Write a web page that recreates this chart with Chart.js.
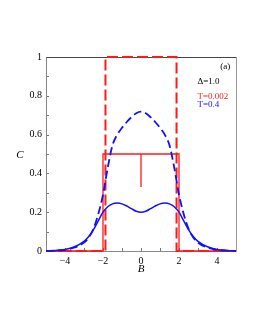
<!DOCTYPE html>
<html>
<head>
<meta charset="utf-8">
<script src="https://cdn.jsdelivr.net/npm/chart.js@4/dist/chart.umd.min.js"></script>
<style>
  body { margin: 0; background: #fff; }
  canvas { display: block; }
</style>
</head>
<body>
<canvas id="myChart" width="255" height="330"></canvas>
<script>
// B grid for the T=0.4 curves
const bValues = [
  -5, -4.5, -4, -3.5, -3, -2.75, -2.5, -2.25, -2, -1.75, -1.5, -1.25, -1, -0.75, -0.5, -0.25,
  0, 0.25, 0.5, 0.75, 1, 1.25, 1.5, 1.75, 2, 2.25, 2.5, 2.75, 3, 3.5, 4, 4.5, 5,
];
// T=0.4, dashed
const blueDashed = [
  0.0005, 0.002, 0.006, 0.018, 0.043, 0.07, 0.115, 0.19, 0.29, 0.43, 0.545, 0.6, 0.635, 0.665, 0.69, 0.71,
  0.718, 0.71, 0.69, 0.665, 0.635, 0.6, 0.545, 0.43, 0.29, 0.19, 0.115, 0.07, 0.043, 0.018, 0.006, 0.002, 0.0005,
];
// T=0.4, solid
const blueSolid = [
  0.001, 0.003, 0.008, 0.022, 0.05, 0.075, 0.11, 0.155, 0.2, 0.228, 0.243, 0.247, 0.243, 0.232, 0.218, 0.205,
  0.2, 0.205, 0.218, 0.232, 0.243, 0.247, 0.243, 0.228, 0.2, 0.155, 0.11, 0.075, 0.05, 0.022, 0.008, 0.003, 0.001,
];
// T=0.002, dashed (step shape)
const redDashedB = [-5, -1.87, -1.87, 1.87, 1.87, 5];
const redDashedC = [0, 0, 1, 1, 0, 0];
// T=0.002, solid (step shape with a spike at B=0)
const redSolidB = [-5, -2, -2, 0, 0, 0, 2, 2, 5];
const redSolidC = [0, 0, 0.5, 0.5, 0.33, 0.5, 0.5, 0, 0];

const xTickLabels = [-4, -2, 0, 2, 4];
const yTickLabels = [0, 0.2, 0.4, 0.6, 0.8, 1];

const RED = "#ff1a1a";
const BLUE = "#1010ff";
const SERIF = "'Liberation Serif', 'DejaVu Serif', serif";

const toPoints = (xs, ys) => xs.map((x, i) => ({ x: x, y: ys[i] }));

const fmt = (v) => String(v).replace("-", "\u2212");

const framePlugin = {
  id: "frame",
  beforeDatasetsDraw(chart) {
    const { ctx, chartArea: a, scales } = chart;
    const x = scales.x;
    const y = scales.y;
    ctx.save();
    ctx.lineWidth = 1;
    ctx.strokeStyle = "#777";
    ctx.beginPath();
    y.ticks.forEach((t) => {
      const py = Math.round(y.getPixelForValue(t.value)) + 0.5;
      ctx.moveTo(a.left, py);
      ctx.lineTo(a.left + 3, py);
    });
    x.ticks.forEach((t) => {
      const px = Math.round(x.getPixelForValue(t.value)) + 0.5;
      ctx.moveTo(px, a.bottom);
      ctx.lineTo(px, a.bottom - 3);
    });
    ctx.stroke();

    const l = Math.round(a.left) + 0.5;
    const r = Math.round(a.right) + 0.5;
    const tp = Math.round(a.top) + 0.5;
    const b = Math.round(a.bottom) + 0.5;
    ctx.strokeStyle = "#888";
    ctx.beginPath();
    ctx.moveTo(l, tp);
    ctx.lineTo(l, b);
    ctx.lineTo(r, b);
    ctx.stroke();
    ctx.strokeStyle = "#444";
    ctx.beginPath();
    ctx.moveTo(l, tp);
    ctx.lineTo(r, tp);
    ctx.stroke();
    ctx.strokeStyle = "#999";
    ctx.beginPath();
    ctx.moveTo(r, tp);
    ctx.lineTo(r, b);
    ctx.stroke();
    ctx.restore();
  },
  afterDraw(chart) {
    const { ctx, scales } = chart;
    const x = scales.x;
    const y = scales.y;
    ctx.save();
    ctx.textBaseline = "middle";

    // axis titles
    ctx.fillStyle = "#000";
    ctx.font = "italic 11px " + SERIF;
    ctx.textAlign = "center";
    ctx.fillText("C", 20, 155);
    ctx.fillText("B", x.getPixelForValue(0), 269);

    // annotations
    ctx.font = "9px " + SERIF;
    ctx.fillText("(a)", x.getPixelForValue(4.43), y.getPixelForValue(0.948));
    ctx.textAlign = "left";
    ctx.fillText("\u0394=1.0", x.getPixelForValue(2.97), y.getPixelForValue(0.875));
    ctx.fillStyle = RED;
    ctx.fillText("T=0.002", x.getPixelForValue(2.97), y.getPixelForValue(0.794));
    ctx.fillStyle = BLUE;
    ctx.fillText("T=0.4", x.getPixelForValue(2.97), y.getPixelForValue(0.755));
    ctx.restore();
  },
};

new Chart("myChart", {
  type: "line",
  data: {
    datasets: [
      {
        data: toPoints(bValues, blueSolid),
        borderColor: BLUE,
        borderWidth: 1.5,
        cubicInterpolationMode: "monotone",
      },
      {
        data: toPoints(bValues, blueDashed),
        borderColor: BLUE,
        borderWidth: 1.8,
        borderDash: [8, 4],
        cubicInterpolationMode: "monotone",
      },
      {
        data: toPoints(redSolidB, redSolidC),
        borderColor: RED,
        borderWidth: 1.3,
      },
      {
        data: toPoints(redDashedB, redDashedC),
        borderColor: RED,
        borderWidth: 2,
        borderDash: [11, 4],
      },
    ],
  },
  options: {
    responsive: false,
    animation: false,
    devicePixelRatio: 1,
    layout: { padding: { left: 0, right: 19, top: 57, bottom: 0 } },
    elements: { point: { radius: 0 }, line: { fill: false } },
    datasets: { line: { clip: 4 } },
    plugins: {
      legend: { display: false },
      tooltip: { enabled: false },
    },
    scales: {
      x: {
        type: "linear",
        min: -5,
        max: 5,
        grid: { display: false, drawTicks: false },
        border: { display: false },
        ticks: {
          stepSize: 1,
          padding: 4,
          color: "#000",
          font: { family: SERIF, size: 10 },
          maxRotation: 0,
          autoSkip: false,
          callback: (v) => (xTickLabels.includes(v) ? fmt(v) : ""),
        },
        afterFit: (scale) => {
          scale.height = 79;
        },
      },
      y: {
        min: 0,
        max: 1,
        grid: { display: false, drawTicks: false },
        border: { display: false },
        ticks: {
          stepSize: 0.1,
          padding: 4,
          color: "#000",
          font: { family: SERIF, size: 10 },
          autoSkip: false,
          callback: (v) => {
            const r = Math.round(v * 10) / 10;
            return yTickLabels.includes(r) ? String(r) : "";
          },
        },
        afterFit: (scale) => {
          scale.width = 46;
        },
      },
    },
  },
  plugins: [framePlugin],
});
</script>
</body>
</html>
